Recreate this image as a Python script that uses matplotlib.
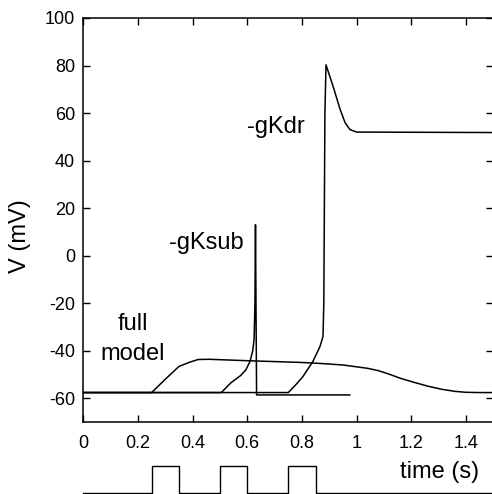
import matplotlib
matplotlib.use("Agg")
import matplotlib.pyplot as plt

plt.rcParams['font.family'] = ['Liberation Sans', 'DejaVu Sans']
plt.rcParams['axes.unicode_minus'] = False

# full model trace
t_full = [0, 0.25, 0.30, 0.35, 0.39, 0.42, 0.46, 0.60, 0.79, 0.86, 0.95, 1.04,
          1.08, 1.12, 1.16, 1.21, 1.26, 1.31, 1.36, 1.40, 1.45, 1.5]
v_full = [-57.6, -57.6, -52.0, -46.6, -44.8, -43.7, -43.6, -44.2, -44.9, -45.3, -46.0, -47.4,
          -48.4, -49.9, -51.6, -53.3, -54.9, -56.2, -57.1, -57.5, -57.6, -57.6]

# without gKsub
t_ksub = [0, 0.505, 0.54, 0.575, 0.595, 0.61, 0.62, 0.625, 0.628, 0.630, 0.634, 0.8, 0.975]
v_ksub = [-57.6, -57.6, -53.5, -50.5, -48.0, -44.5, -40.0, -35.0, -20.0, 13.0, -58.6, -58.6, -58.6]

# without gKdr
t_kdr = [0, 0.75, 0.78, 0.804, 0.84, 0.866, 0.877, 0.880, 0.884, 0.888, 0.914, 0.94,
         0.958, 0.976, 1.0, 1.5]
v_kdr = [-57.6, -57.6, -54.0, -50.8, -44.5, -38.2, -34.0, -20.0, 60.0, 80.3, 71.2, 61.4,
         55.9, 53.0, 52.0, 51.8]

# current pulses
pulse_on = [0.25, 0.5, 0.75]
pulse_off = [0.35, 0.6, 0.85]

fig = plt.figure(figsize=(4.92, 4.94), dpi=100)
ax = fig.add_axes([0.1693, 0.1457, 0.8333, 0.8179])

for t, v in [(t_full, v_full), (t_ksub, v_ksub), (t_kdr, v_kdr)]:
    ax.plot(t, v, color='black', lw=1.1)

ax.set_xlim(0, 1.5)
ax.set_ylim(-70, 100)
ax.set_xticks([0, 0.2, 0.4, 0.6, 0.8, 1.0, 1.2, 1.4])
ax.set_xticklabels(['0', '0.2', '0.4', '0.6', '0.8', '1', '1.2', '1.4'])
ax.set_yticks(range(-60, 101, 20))
ax.tick_params(direction='in', length=5, width=1, top=True, right=True,
               labelsize=13)
ax.tick_params(axis='x', pad=9)
ax.tick_params(axis='y', pad=6)
for s in ax.spines.values():
    s.set_linewidth(1.1)

ax.set_ylabel('V (mV)', fontsize=17)
ax.yaxis.set_label_coords(-0.128, 0.46)

ax.text(0.705, 54.2, '-gKdr', fontsize=17, ha='center', va='center')
ax.text(0.45, 5.5, '-gKsub', fontsize=17, ha='center', va='center')
ax.text(0.182, -28.9, 'full', fontsize=17, ha='center', va='center')
ax.text(0.182, -41.5, 'model', fontsize=17, ha='center', va='center')

# stimulus trace below
sx = fig.add_axes([0.1693, 1.5 / 494, 0.8333, 27 / 494])
st = [0]
sv = [0]
for a, b in zip(pulse_on, pulse_off):
    st += [a, a, b, b]
    sv += [0, 1, 1, 0]
st.append(1.5)
sv.append(0)
sx.plot(st, sv, color='black', lw=1.0, clip_on=False)
sx.set_xlim(0, 1.5)
sx.set_ylim(0, 1)
sx.axis('off')

fig.text(440 / 492, 1 - 472 / 494, 'time (s)', fontsize=17, ha='center', va='center')

fig.savefig('out.png', dpi=100)
